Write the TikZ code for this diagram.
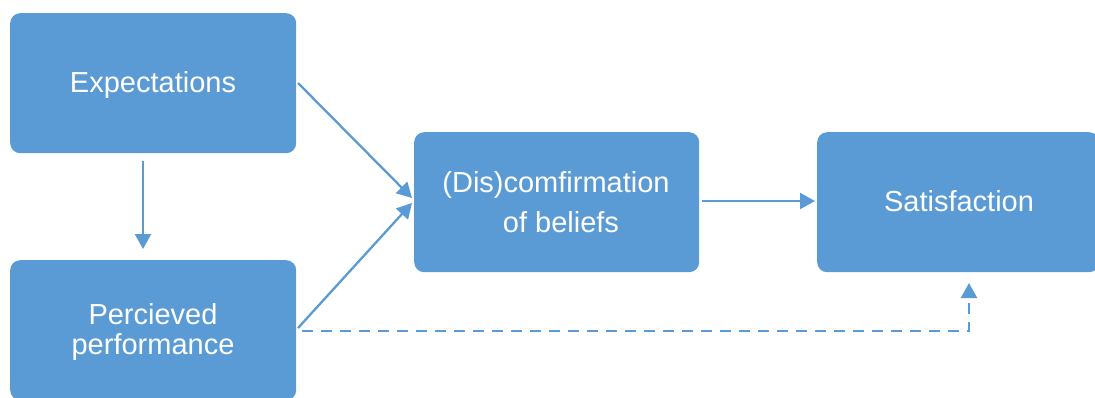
\documentclass[tikz,border=0pt]{standalone}
\usepackage{fontspec}
\setmainfont{Liberation Sans}
\usetikzlibrary{arrows.meta}
\definecolor{boxblue}{HTML}{5B9BD5}
\tikzset{
  box/.style={fill=boxblue, draw=none, rounded corners=10pt, minimum height=140pt, inner sep=0pt, anchor=north west},
  lbl/.style={text=white, font=\fontsize{29}{30}\selectfont, anchor=base, inner sep=0pt},
  conn/.style={draw=boxblue, line width=2.3pt, -{Triangle[length=15pt, width=16pt]}},
  dconn/.style={conn, dash pattern=on 11pt off 8pt}
}
\begin{document}
\begin{tikzpicture}[x=1pt, y=-1pt]
\useasboundingbox (0,0) rectangle (1095,397);
% boxes
\node[box, minimum width=286pt] (exp) at (10,13) {};
\node[box, minimum width=286pt] (perc) at (10,260) {};
\node[box, minimum width=285pt] (dis) at (414,132) {};
\node[box, minimum width=282pt] (sat) at (817,132) {};
% labels
\node[lbl] (expl) at (153,92) {Expectations};
\node[lbl] (percl1) at (153,324) {Percieved};
\node[lbl] (percl2) at (153,354) {performance};
\node[lbl] (disl1) at (556,192) {(Dis)comfirmation};
\node[lbl] (disl2) at (561,232) {of beliefs};
\node[lbl] (satl) at (959,211) {Satisfaction};
% connector anchor coordinates
\coordinate (e1) at (143,161);
\coordinate (e2) at (143,249);
\coordinate (ed1) at (298,83);
\coordinate (ed2) at (412,198);
\coordinate (pd1) at (298,328);
\coordinate (pd2) at (412,203);
\coordinate (ds1) at (702,201);
\coordinate (ds2) at (815,201);
\coordinate (pa) at (302,331);
\coordinate (pb) at (969,331);
\coordinate (pc) at (969,283);
% connectors
\draw[conn] (e1) -- (e2);
\draw[conn] (ed1) -- (ed2);
\draw[conn] (pd1) -- (pd2);
\draw[conn] (ds1) -- (ds2);
\draw[dconn] (pa) -- (pb) -- (pc);
\end{tikzpicture}
\end{document}
